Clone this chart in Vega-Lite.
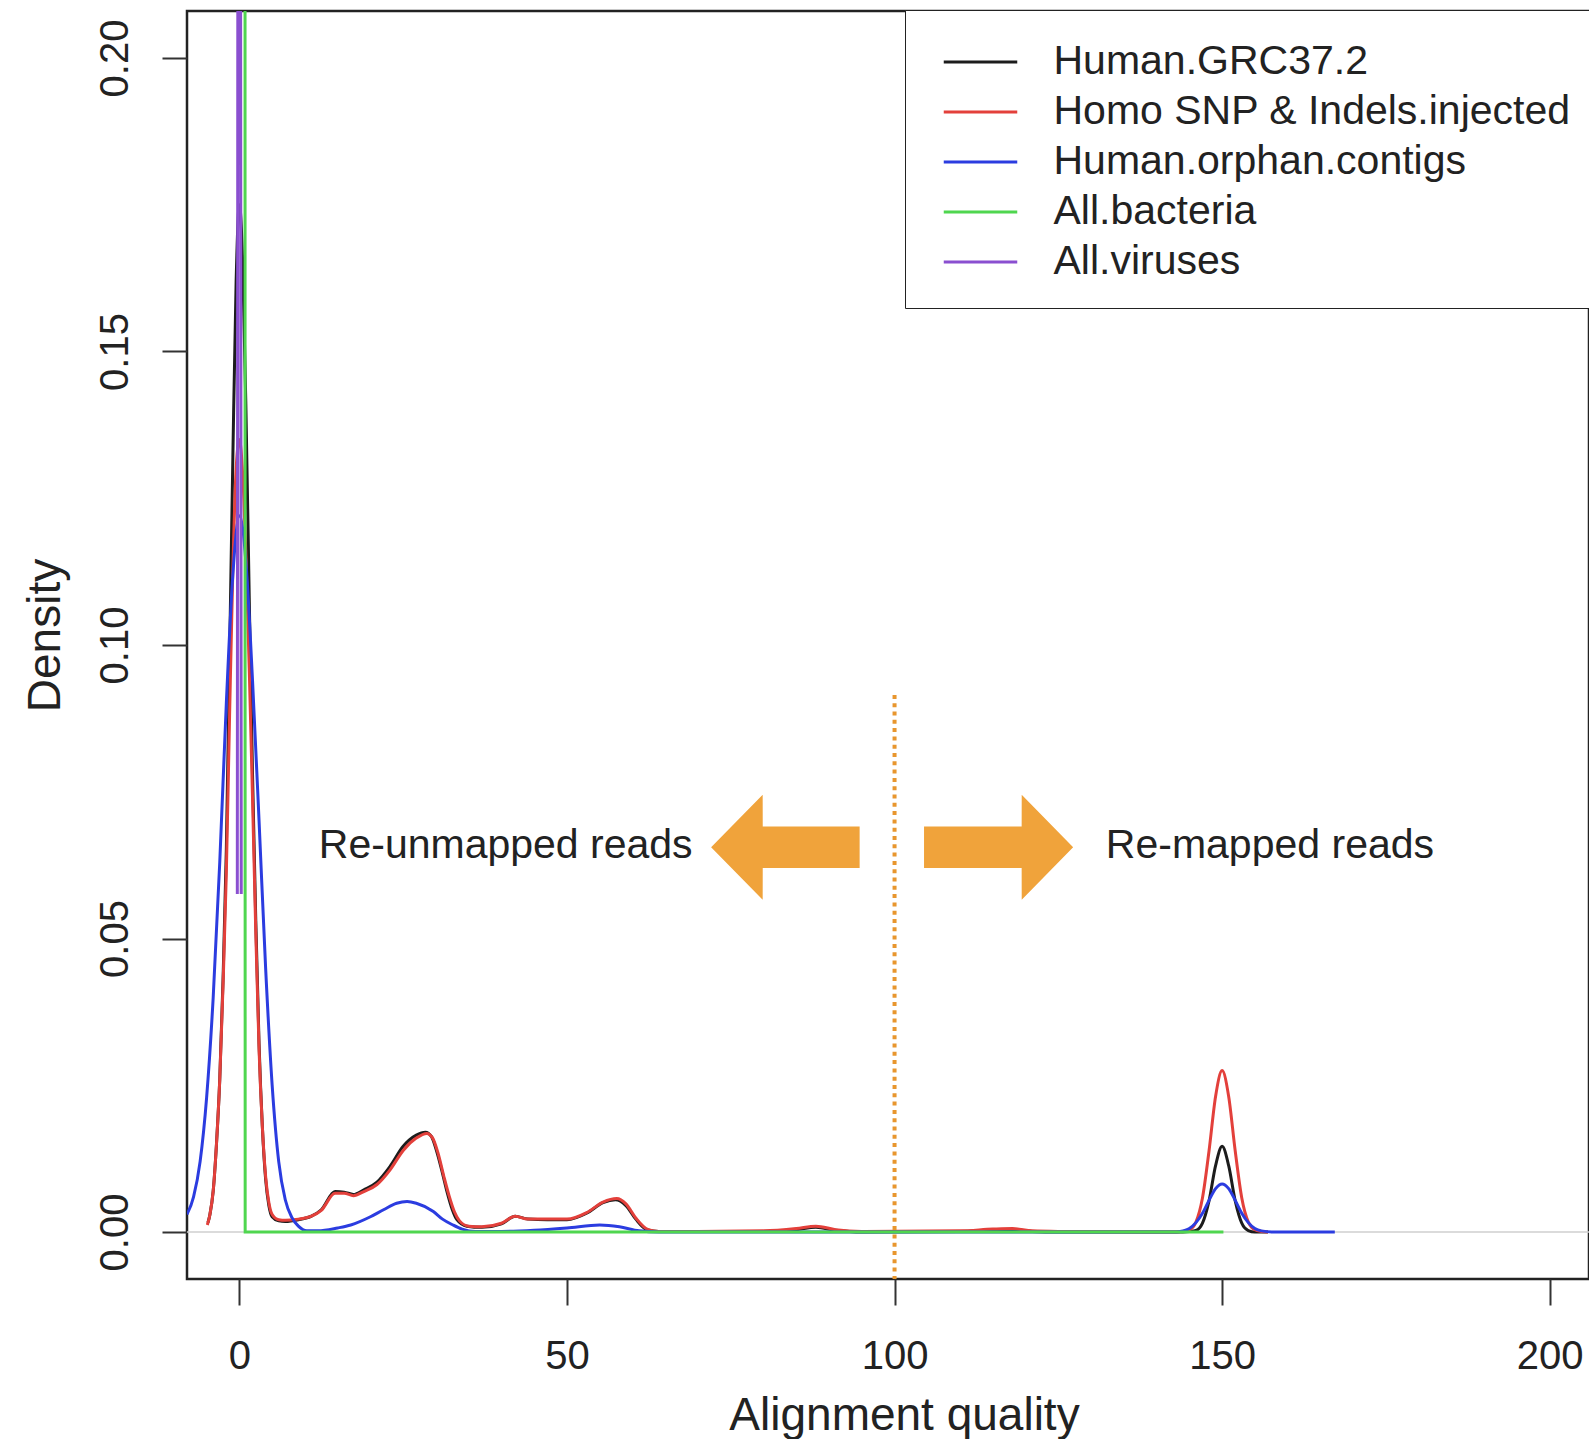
{
  "$schema": "https://vega.github.io/schema/vega-lite/v6.json",
  "autosize": {"type": "none"},
  "padding": {"left": 187, "top": 11, "right": 0, "bottom": 160},
  "width": 1402,
  "height": 1268,
  "background": "white",
  "config": {
    "view": {"stroke": "#222", "strokeWidth": 2.5},
    "font": "Liberation Sans"
  },
  "datasets": {
    "curves": [
      {"series": "Human.GRC37.2", "q": -4.8, "density": 0.0016},
      {"series": "Human.GRC37.2", "q": -4.5, "density": 0.003},
      {"series": "Human.GRC37.2", "q": -4, "density": 0.007},
      {"series": "Human.GRC37.2", "q": -3.5, "density": 0.015},
      {"series": "Human.GRC37.2", "q": -3, "density": 0.026},
      {"series": "Human.GRC37.2", "q": -2.5, "density": 0.043},
      {"series": "Human.GRC37.2", "q": -2, "density": 0.065},
      {"series": "Human.GRC37.2", "q": -1.5, "density": 0.098},
      {"series": "Human.GRC37.2", "q": -1, "density": 0.132},
      {"series": "Human.GRC37.2", "q": -0.5, "density": 0.162},
      {"series": "Human.GRC37.2", "q": 0, "density": 0.175},
      {"series": "Human.GRC37.2", "q": 0.5, "density": 0.165},
      {"series": "Human.GRC37.2", "q": 1, "density": 0.14},
      {"series": "Human.GRC37.2", "q": 1.5, "density": 0.108},
      {"series": "Human.GRC37.2", "q": 2, "density": 0.078},
      {"series": "Human.GRC37.2", "q": 2.5, "density": 0.053},
      {"series": "Human.GRC37.2", "q": 3, "density": 0.032},
      {"series": "Human.GRC37.2", "q": 3.5, "density": 0.018},
      {"series": "Human.GRC37.2", "q": 4, "density": 0.009},
      {"series": "Human.GRC37.2", "q": 4.5, "density": 0.0045},
      {"series": "Human.GRC37.2", "q": 5, "density": 0.0026},
      {"series": "Human.GRC37.2", "q": 6, "density": 0.0019},
      {"series": "Human.GRC37.2", "q": 7, "density": 0.0018},
      {"series": "Human.GRC37.2", "q": 9, "density": 0.0021},
      {"series": "Human.GRC37.2", "q": 11, "density": 0.0027},
      {"series": "Human.GRC37.2", "q": 12.5, "density": 0.0038},
      {"series": "Human.GRC37.2", "q": 14.6, "density": 0.0069},
      {"series": "Human.GRC37.2", "q": 16, "density": 0.0068},
      {"series": "Human.GRC37.2", "q": 17.4, "density": 0.0064},
      {"series": "Human.GRC37.2", "q": 19, "density": 0.0072},
      {"series": "Human.GRC37.2", "q": 21, "density": 0.0085},
      {"series": "Human.GRC37.2", "q": 23, "density": 0.0112},
      {"series": "Human.GRC37.2", "q": 25, "density": 0.0146},
      {"series": "Human.GRC37.2", "q": 27, "density": 0.0165},
      {"series": "Human.GRC37.2", "q": 28.4, "density": 0.017},
      {"series": "Human.GRC37.2", "q": 29.3, "density": 0.0163},
      {"series": "Human.GRC37.2", "q": 30.1, "density": 0.0138},
      {"series": "Human.GRC37.2", "q": 31, "density": 0.01},
      {"series": "Human.GRC37.2", "q": 31.7, "density": 0.0068},
      {"series": "Human.GRC37.2", "q": 32.5, "density": 0.0038},
      {"series": "Human.GRC37.2", "q": 33.2, "density": 0.0021},
      {"series": "Human.GRC37.2", "q": 34.7, "density": 0.001},
      {"series": "Human.GRC37.2", "q": 37, "density": 0.0008},
      {"series": "Human.GRC37.2", "q": 40, "density": 0.0014},
      {"series": "Human.GRC37.2", "q": 42.1, "density": 0.0027},
      {"series": "Human.GRC37.2", "q": 44, "density": 0.0022},
      {"series": "Human.GRC37.2", "q": 47, "density": 0.0021},
      {"series": "Human.GRC37.2", "q": 50, "density": 0.0021},
      {"series": "Human.GRC37.2", "q": 53, "density": 0.0032},
      {"series": "Human.GRC37.2", "q": 55.5, "density": 0.005},
      {"series": "Human.GRC37.2", "q": 57.4, "density": 0.0055},
      {"series": "Human.GRC37.2", "q": 59, "density": 0.0045},
      {"series": "Human.GRC37.2", "q": 60.5, "density": 0.0022},
      {"series": "Human.GRC37.2", "q": 62.2, "density": 0.0004},
      {"series": "Human.GRC37.2", "q": 64, "density": 0.0001},
      {"series": "Human.GRC37.2", "q": 70, "density": 0.0001},
      {"series": "Human.GRC37.2", "q": 80, "density": 0.0001},
      {"series": "Human.GRC37.2", "q": 85, "density": 0.0004},
      {"series": "Human.GRC37.2", "q": 88, "density": 0.0008},
      {"series": "Human.GRC37.2", "q": 91, "density": 0.0003},
      {"series": "Human.GRC37.2", "q": 95, "density": 0},
      {"series": "Human.GRC37.2", "q": 110, "density": 0.0001},
      {"series": "Human.GRC37.2", "q": 115, "density": 0.0003},
      {"series": "Human.GRC37.2", "q": 118, "density": 0.0004},
      {"series": "Human.GRC37.2", "q": 121, "density": 0.0001},
      {"series": "Human.GRC37.2", "q": 125, "density": 0},
      {"series": "Human.GRC37.2", "q": 143, "density": 0},
      {"series": "Human.GRC37.2", "q": 145, "density": 0.0001},
      {"series": "Human.GRC37.2", "q": 146, "density": 0.00025},
      {"series": "Human.GRC37.2", "q": 147, "density": 0.0015},
      {"series": "Human.GRC37.2", "q": 148, "density": 0.0053},
      {"series": "Human.GRC37.2", "q": 149, "density": 0.0113},
      {"series": "Human.GRC37.2", "q": 150, "density": 0.0146},
      {"series": "Human.GRC37.2", "q": 151, "density": 0.0113},
      {"series": "Human.GRC37.2", "q": 152, "density": 0.0053},
      {"series": "Human.GRC37.2", "q": 153, "density": 0.0015},
      {"series": "Human.GRC37.2", "q": 154, "density": 0.00025},
      {"series": "Human.GRC37.2", "q": 155, "density": 0},
      {"series": "Human.GRC37.2", "q": 157, "density": 0},

      {"series": "Homo SNP & Indels.injected", "q": -4.9, "density": 0.0012},
      {"series": "Homo SNP & Indels.injected", "q": -4.5, "density": 0.003},
      {"series": "Homo SNP & Indels.injected", "q": -4, "density": 0.007},
      {"series": "Homo SNP & Indels.injected", "q": -3.5, "density": 0.015},
      {"series": "Homo SNP & Indels.injected", "q": -3, "density": 0.026},
      {"series": "Homo SNP & Indels.injected", "q": -2.5, "density": 0.042},
      {"series": "Homo SNP & Indels.injected", "q": -2, "density": 0.061},
      {"series": "Homo SNP & Indels.injected", "q": -1.5, "density": 0.088},
      {"series": "Homo SNP & Indels.injected", "q": -1, "density": 0.113},
      {"series": "Homo SNP & Indels.injected", "q": -0.5, "density": 0.13},
      {"series": "Homo SNP & Indels.injected", "q": 0, "density": 0.135},
      {"series": "Homo SNP & Indels.injected", "q": 0.5, "density": 0.129},
      {"series": "Homo SNP & Indels.injected", "q": 1, "density": 0.115},
      {"series": "Homo SNP & Indels.injected", "q": 1.5, "density": 0.096},
      {"series": "Homo SNP & Indels.injected", "q": 2, "density": 0.074},
      {"series": "Homo SNP & Indels.injected", "q": 2.5, "density": 0.051},
      {"series": "Homo SNP & Indels.injected", "q": 3, "density": 0.031},
      {"series": "Homo SNP & Indels.injected", "q": 3.5, "density": 0.018},
      {"series": "Homo SNP & Indels.injected", "q": 4, "density": 0.0095},
      {"series": "Homo SNP & Indels.injected", "q": 4.5, "density": 0.005},
      {"series": "Homo SNP & Indels.injected", "q": 5, "density": 0.003},
      {"series": "Homo SNP & Indels.injected", "q": 6, "density": 0.0021},
      {"series": "Homo SNP & Indels.injected", "q": 7, "density": 0.002},
      {"series": "Homo SNP & Indels.injected", "q": 9, "density": 0.0022},
      {"series": "Homo SNP & Indels.injected", "q": 11, "density": 0.0027},
      {"series": "Homo SNP & Indels.injected", "q": 12.5, "density": 0.0037},
      {"series": "Homo SNP & Indels.injected", "q": 14.6, "density": 0.0066},
      {"series": "Homo SNP & Indels.injected", "q": 16, "density": 0.0066},
      {"series": "Homo SNP & Indels.injected", "q": 17.4, "density": 0.0062},
      {"series": "Homo SNP & Indels.injected", "q": 19, "density": 0.0069},
      {"series": "Homo SNP & Indels.injected", "q": 21, "density": 0.0081},
      {"series": "Homo SNP & Indels.injected", "q": 23, "density": 0.0106},
      {"series": "Homo SNP & Indels.injected", "q": 25, "density": 0.0139},
      {"series": "Homo SNP & Indels.injected", "q": 27, "density": 0.016},
      {"series": "Homo SNP & Indels.injected", "q": 28.6, "density": 0.0168},
      {"series": "Homo SNP & Indels.injected", "q": 29.5, "density": 0.016},
      {"series": "Homo SNP & Indels.injected", "q": 30.3, "density": 0.0135},
      {"series": "Homo SNP & Indels.injected", "q": 31.2, "density": 0.0095},
      {"series": "Homo SNP & Indels.injected", "q": 32, "density": 0.0062},
      {"series": "Homo SNP & Indels.injected", "q": 32.8, "density": 0.0035},
      {"series": "Homo SNP & Indels.injected", "q": 33.6, "density": 0.0019},
      {"series": "Homo SNP & Indels.injected", "q": 35, "density": 0.001},
      {"series": "Homo SNP & Indels.injected", "q": 37, "density": 0.0009},
      {"series": "Homo SNP & Indels.injected", "q": 40, "density": 0.0015},
      {"series": "Homo SNP & Indels.injected", "q": 42.1, "density": 0.0027},
      {"series": "Homo SNP & Indels.injected", "q": 44, "density": 0.0022},
      {"series": "Homo SNP & Indels.injected", "q": 47, "density": 0.0022},
      {"series": "Homo SNP & Indels.injected", "q": 50, "density": 0.0022},
      {"series": "Homo SNP & Indels.injected", "q": 53, "density": 0.0033},
      {"series": "Homo SNP & Indels.injected", "q": 55.5, "density": 0.0051},
      {"series": "Homo SNP & Indels.injected", "q": 57.6, "density": 0.0057},
      {"series": "Homo SNP & Indels.injected", "q": 59, "density": 0.0048},
      {"series": "Homo SNP & Indels.injected", "q": 60.5, "density": 0.0024},
      {"series": "Homo SNP & Indels.injected", "q": 62.4, "density": 0.0004},
      {"series": "Homo SNP & Indels.injected", "q": 64, "density": 0.0001},
      {"series": "Homo SNP & Indels.injected", "q": 70, "density": 0.0001},
      {"series": "Homo SNP & Indels.injected", "q": 80, "density": 0.0002},
      {"series": "Homo SNP & Indels.injected", "q": 85, "density": 0.0006},
      {"series": "Homo SNP & Indels.injected", "q": 88, "density": 0.001},
      {"series": "Homo SNP & Indels.injected", "q": 91, "density": 0.0004},
      {"series": "Homo SNP & Indels.injected", "q": 95, "density": 0.0001},
      {"series": "Homo SNP & Indels.injected", "q": 110, "density": 0.0002},
      {"series": "Homo SNP & Indels.injected", "q": 115, "density": 0.0005},
      {"series": "Homo SNP & Indels.injected", "q": 118, "density": 0.0006},
      {"series": "Homo SNP & Indels.injected", "q": 121, "density": 0.0002},
      {"series": "Homo SNP & Indels.injected", "q": 125, "density": 0.0001},
      {"series": "Homo SNP & Indels.injected", "q": 143, "density": 0},
      {"series": "Homo SNP & Indels.injected", "q": 145, "density": 0.0004},
      {"series": "Homo SNP & Indels.injected", "q": 146, "density": 0.0017},
      {"series": "Homo SNP & Indels.injected", "q": 147, "density": 0.0058},
      {"series": "Homo SNP & Indels.injected", "q": 148, "density": 0.0138},
      {"series": "Homo SNP & Indels.injected", "q": 149, "density": 0.0231},
      {"series": "Homo SNP & Indels.injected", "q": 150, "density": 0.0275},
      {"series": "Homo SNP & Indels.injected", "q": 151, "density": 0.0231},
      {"series": "Homo SNP & Indels.injected", "q": 152, "density": 0.0138},
      {"series": "Homo SNP & Indels.injected", "q": 153, "density": 0.0058},
      {"series": "Homo SNP & Indels.injected", "q": 154, "density": 0.0017},
      {"series": "Homo SNP & Indels.injected", "q": 155, "density": 0.0004},
      {"series": "Homo SNP & Indels.injected", "q": 156, "density": 0.0001},
      {"series": "Homo SNP & Indels.injected", "q": 157, "density": 0},

      {"series": "Human.orphan.contigs", "q": -8, "density": 0.003},
      {"series": "Human.orphan.contigs", "q": -7, "density": 0.006},
      {"series": "Human.orphan.contigs", "q": -6, "density": 0.012},
      {"series": "Human.orphan.contigs", "q": -5, "density": 0.023},
      {"series": "Human.orphan.contigs", "q": -4, "density": 0.04},
      {"series": "Human.orphan.contigs", "q": -3, "density": 0.063},
      {"series": "Human.orphan.contigs", "q": -2, "density": 0.09},
      {"series": "Human.orphan.contigs", "q": -1, "density": 0.112},
      {"series": "Human.orphan.contigs", "q": 0, "density": 0.122},
      {"series": "Human.orphan.contigs", "q": 1, "density": 0.114},
      {"series": "Human.orphan.contigs", "q": 2, "density": 0.094},
      {"series": "Human.orphan.contigs", "q": 3, "density": 0.07},
      {"series": "Human.orphan.contigs", "q": 4, "density": 0.045},
      {"series": "Human.orphan.contigs", "q": 5, "density": 0.025},
      {"series": "Human.orphan.contigs", "q": 6, "density": 0.012},
      {"series": "Human.orphan.contigs", "q": 7, "density": 0.0055},
      {"series": "Human.orphan.contigs", "q": 8, "density": 0.0025},
      {"series": "Human.orphan.contigs", "q": 9, "density": 0.001},
      {"series": "Human.orphan.contigs", "q": 10.3, "density": 0.0002},
      {"series": "Human.orphan.contigs", "q": 12, "density": 0.0002},
      {"series": "Human.orphan.contigs", "q": 15, "density": 0.0007},
      {"series": "Human.orphan.contigs", "q": 17, "density": 0.0012},
      {"series": "Human.orphan.contigs", "q": 20, "density": 0.0026},
      {"series": "Human.orphan.contigs", "q": 22, "density": 0.0038},
      {"series": "Human.orphan.contigs", "q": 24, "density": 0.0049},
      {"series": "Human.orphan.contigs", "q": 25.6, "density": 0.0052},
      {"series": "Human.orphan.contigs", "q": 27, "density": 0.0049},
      {"series": "Human.orphan.contigs", "q": 29.6, "density": 0.0035},
      {"series": "Human.orphan.contigs", "q": 31, "density": 0.0022},
      {"series": "Human.orphan.contigs", "q": 32.6, "density": 0.0012},
      {"series": "Human.orphan.contigs", "q": 34, "density": 0.0005},
      {"series": "Human.orphan.contigs", "q": 36, "density": 0.0001},
      {"series": "Human.orphan.contigs", "q": 40, "density": 0.0001},
      {"series": "Human.orphan.contigs", "q": 45, "density": 0.0003},
      {"series": "Human.orphan.contigs", "q": 50, "density": 0.0007},
      {"series": "Human.orphan.contigs", "q": 55, "density": 0.0012},
      {"series": "Human.orphan.contigs", "q": 58, "density": 0.0009},
      {"series": "Human.orphan.contigs", "q": 61, "density": 0.0002},
      {"series": "Human.orphan.contigs", "q": 64, "density": 0},
      {"series": "Human.orphan.contigs", "q": 143, "density": 0},
      {"series": "Human.orphan.contigs", "q": 144, "density": 0.0002},
      {"series": "Human.orphan.contigs", "q": 145, "density": 0.0006},
      {"series": "Human.orphan.contigs", "q": 146, "density": 0.0016},
      {"series": "Human.orphan.contigs", "q": 147, "density": 0.0032},
      {"series": "Human.orphan.contigs", "q": 148, "density": 0.0054},
      {"series": "Human.orphan.contigs", "q": 149, "density": 0.0074},
      {"series": "Human.orphan.contigs", "q": 150, "density": 0.0082},
      {"series": "Human.orphan.contigs", "q": 151, "density": 0.0074},
      {"series": "Human.orphan.contigs", "q": 152, "density": 0.0054},
      {"series": "Human.orphan.contigs", "q": 153, "density": 0.0032},
      {"series": "Human.orphan.contigs", "q": 154, "density": 0.0016},
      {"series": "Human.orphan.contigs", "q": 155, "density": 0.0006},
      {"series": "Human.orphan.contigs", "q": 156, "density": 0.0002},
      {"series": "Human.orphan.contigs", "q": 158, "density": 0},
      {"series": "Human.orphan.contigs", "q": 167.2, "density": 0},

      {"series": "All.bacteria", "q": 0.85, "density": 0.3},
      {"series": "All.bacteria", "q": 0.88, "density": 0},
      {"series": "All.bacteria", "q": 150.2, "density": 0},

      {"series": "All.viruses", "q": -0.32, "density": 0.0576},
      {"series": "All.viruses", "q": 0.0, "density": 0.5},
      {"series": "All.viruses", "q": 0.28, "density": 0.0576}
    ],
    "arrows": [
      {"arrow": "left", "q": 72.0, "lo": 0.06555, "hi": 0.06555},
      {"arrow": "left", "q": 79.87, "lo": 0.07449, "hi": 0.05661},
      {"arrow": "left", "q": 79.88, "lo": 0.06907, "hi": 0.06203},
      {"arrow": "left", "q": 94.67, "lo": 0.06907, "hi": 0.06203},
      {"arrow": "right", "q": 104.5, "lo": 0.06907, "hi": 0.06203},
      {"arrow": "right", "q": 119.4, "lo": 0.06907, "hi": 0.06203},
      {"arrow": "right", "q": 119.41, "lo": 0.07449, "hi": 0.05661},
      {"arrow": "right", "q": 127.26, "lo": 0.06555, "hi": 0.06555}
    ],
    "labels": [
      {"text": "Re-unmapped reads", "q": 40.65, "density": 0.0637},
      {"text": "Re-mapped reads", "q": 157.3, "density": 0.0637}
    ],
    "cutoff": [
      {"q": 100, "lo": 0.0915, "hi": -0.008}
    ],
    "zero": [
      {"density": 0}
    ]
  },
  "layer": [
    {
      "data": {"name": "zero"},
      "mark": {"type": "rule", "color": "#CFCFCF", "strokeWidth": 1.5},
      "encoding": {
        "y": {"field": "density", "type": "quantitative", "title": "Density",
              "scale": {"domain": [-0.008, 0.208], "nice": false, "zero": false},
              "axis": {
                "values": [0, 0.05, 0.1, 0.15, 0.2], "format": ".2f",
                "domain": false, "grid": false,
                "tickSize": 25, "tickWidth": 2, "tickColor": "#333",
                "labelFontSize": 40, "labelFont": "Liberation Sans", "labelColor": "#222",
                "labelAngle": 270, "labelAlign": "center", "labelBaseline": "alphabetic",
                "labelPadding": 35, "labelFlush": false, "labelOverlap": false,
                "titleFontSize": 46, "titleFont": "Liberation Sans", "titleFontWeight": "normal",
                "titleColor": "#222", "titleAngle": 270, "titleBaseline": "alphabetic",
                "titleAlign": "center", "titleX": -128, "titleY": 624
              }}
      }
    },
    {
      "data": {"name": "curves"},
      "mark": {"type": "line", "strokeWidth": 3, "interpolate": "monotone", "clip": true},
      "encoding": {
        "x": {"field": "q", "type": "quantitative", "title": "Alignment quality",
              "scale": {"domain": [-8, 206], "nice": false, "zero": false},
              "axis": {
                "values": [0, 50, 100, 150, 200],
                "domain": false, "grid": false,
                "tickSize": 26, "tickWidth": 2, "tickColor": "#333",
                "labelFontSize": 40, "labelFont": "Liberation Sans", "labelColor": "#222",
                "labelPadding": 31, "labelFlush": false, "labelOverlap": false,
                "titleFontSize": 46, "titleFont": "Liberation Sans", "titleFontWeight": "normal",
                "titleColor": "#222", "titleBaseline": "alphabetic", "titleAlign": "center",
                "titleX": 717, "titleY": 150
              }},
        "y": {"field": "density", "type": "quantitative", "title": "Density"},
        "color": {
          "field": "series", "type": "nominal",
          "scale": {
            "domain": ["Human.GRC37.2", "Homo SNP & Indels.injected", "Human.orphan.contigs", "All.bacteria", "All.viruses"],
            "range": ["#1c1c1c", "#E3403B", "#2B3CE0", "#4FD64F", "#8A4FD0"]
          },
          "legend": {
            "title": null, "orient": "none", "legendX": 718, "legendY": -1,
            "padding": 26, "fillColor": "white", "strokeColor": "#222",
            "symbolType": "M-1.5,0H1.5", "symbolSize": 2401, "symbolStrokeWidth": 3,
            "symbolOffset": 23.5, "labelOffset": 47,
            "labelFontSize": 41, "labelFont": "Liberation Sans", "labelColor": "#222",
            "labelLimit": 0, "rowPadding": 4
          }
        }
      }
    },
    {
      "data": {"name": "cutoff"},
      "mark": {"type": "rule", "color": "#E8962E", "strokeWidth": 4, "strokeDash": [4, 4.3], "strokeCap": "butt"},
      "encoding": {
        "x": {"field": "q", "type": "quantitative", "title": "Alignment quality"},
        "y": {"field": "lo", "type": "quantitative", "title": "Density"},
        "y2": {"field": "hi"}
      }
    },
    {
      "data": {"name": "arrows"},
      "mark": {"type": "area", "color": "#F0A33B", "interpolate": "linear"},
      "encoding": {
        "x": {"field": "q", "type": "quantitative", "title": "Alignment quality"},
        "y": {"field": "lo", "type": "quantitative", "title": "Density"},
        "y2": {"field": "hi"},
        "detail": {"field": "arrow", "type": "nominal"}
      }
    },
    {
      "data": {"name": "labels"},
      "mark": {"type": "text", "fontSize": 41, "font": "Liberation Sans", "color": "#222", "align": "center", "baseline": "alphabetic"},
      "encoding": {
        "x": {"field": "q", "type": "quantitative", "title": "Alignment quality"},
        "y": {"field": "density", "type": "quantitative", "title": "Density"},
        "text": {"field": "text", "type": "nominal"}
      }
    }
  ]
}
